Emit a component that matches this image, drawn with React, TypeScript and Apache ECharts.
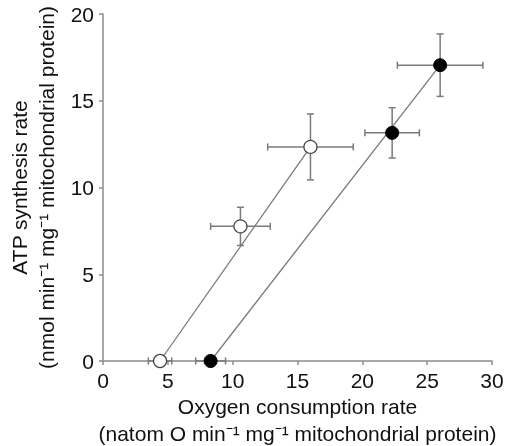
import React, { useEffect, useRef } from "react";
import * as echarts from "echarts";

// Open circles: [x, y, xErr, yErr]
const openPoints = [
  [4.4, 0, 0.9, 0],
  [10.6, 7.76, 2.3, 1.1],
  [16.0, 12.34, 3.3, 1.9],
];
// Filled circles: [x, y, xErr, yErr]
const filledPoints = [
  [8.3, 0, 1.15, 0],
  [22.3, 13.15, 2.1, 1.45],
  [26.0, 17.05, 3.3, 1.8],
];
// Regression lines
const openFit = [
  [4.4, 0],
  [16.0, 12.34],
];
const filledFit = [
  [8.3, 0],
  [26.0, 17.05],
];
const xTicks = [0, 5, 10, 15, 20, 25, 30];
const yTicks = [0, 5, 10, 15, 20];

const FONT = "Liberation Sans, Arial, sans-serif";
const GREY = "#7a7a7a";

function errRender(params: any, api: any) {
  const x = api.value(0);
  const y = api.value(1);
  const xe = api.value(2);
  const ye = api.value(3);
  const cap = 3.5;
  const children: any[] = [];
  const style = { stroke: GREY, lineWidth: 1.5 };
  const l = api.coord([x - xe, y]);
  const r = api.coord([x + xe, y]);
  if (xe > 0) {
    children.push({ type: "line", shape: { x1: l[0], y1: l[1], x2: r[0], y2: r[1] }, style });
    children.push({ type: "line", shape: { x1: l[0], y1: l[1] - cap, x2: l[0], y2: l[1] + cap }, style });
    children.push({ type: "line", shape: { x1: r[0], y1: r[1] - cap, x2: r[0], y2: r[1] + cap }, style });
  }
  if (ye > 0) {
    const t = api.coord([x, y + ye]);
    const b = api.coord([x, y - ye]);
    children.push({ type: "line", shape: { x1: t[0], y1: t[1], x2: b[0], y2: b[1] }, style });
    children.push({ type: "line", shape: { x1: t[0] - cap, y1: t[1], x2: t[0] + cap, y2: t[1] }, style });
    children.push({ type: "line", shape: { x1: b[0] - cap, y1: b[1], x2: b[0] + cap, y2: b[1] }, style });
  }
  return { type: "group", children };
}

export default function App() {
  const ref = useRef<HTMLDivElement>(null);
  useEffect(() => {
    if (!ref.current) return;
    const chart = echarts.init(ref.current, null, { renderer: "svg" });
    const axisCommon = {
      type: "value" as const,
      interval: 5,
      axisLine: { show: true, lineStyle: { color: "#8c8c8c", width: 1.5 } },
      axisTick: { show: true, length: 4, lineStyle: { color: "#8c8c8c", width: 1.5 } },
      splitLine: { show: false },
      axisLabel: { color: "#111", fontSize: 21, fontFamily: FONT, margin: 9 },
      nameLocation: "middle" as const,
      nameMoveOverlap: false,
      nameTextStyle: { color: "#111", fontSize: 21, fontFamily: FONT, lineHeight: 27 },
    };
    chart.setOption({
      animation: false,
      grid: { left: 103, right: 14, top: 14, bottom: 85, outerBoundsMode: "none", containLabel: false },
      xAxis: {
        ...axisCommon,
        min: xTicks[0],
        max: xTicks[xTicks.length - 1],
        name: "Oxygen consumption rate\n(natom O min\u207B\u00B9 mg\u207B\u00B9 mitochondrial protein)",
        nameGap: 32,
      },
      yAxis: {
        ...axisCommon,
        min: yTicks[0],
        max: yTicks[yTicks.length - 1],
        name: "ATP synthesis rate\n(nmol min\u207B\u00B9 mg\u207B\u00B9 mitochondrial protein)",
        nameGap: 43,
        nameRotate: 90,
      },
      series: [
        {
          type: "custom",
          renderItem: errRender,
          data: openPoints,
          z: 1,
          clip: false,
        },
        {
          type: "custom",
          renderItem: errRender,
          data: filledPoints,
          z: 1,
          clip: false,
        },
        {
          type: "line",
          data: openFit,
          symbol: "none",
          lineStyle: { color: GREY, width: 1.3 },
          z: 2,
        },
        {
          type: "line",
          data: filledFit,
          symbol: "none",
          lineStyle: { color: GREY, width: 1.3 },
          z: 2,
        },
        {
          type: "scatter",
          data: openPoints.map((p) => [p[0], p[1]]),
          symbol: "circle",
          symbolSize: 13,
          itemStyle: { color: "#fff", borderColor: "#444", borderWidth: 1.3, opacity: 1 },
          z: 3,
          clip: false,
        },
        {
          type: "scatter",
          data: filledPoints.map((p) => [p[0], p[1]]),
          symbol: "circle",
          symbolSize: 13,
          itemStyle: { color: "#000", borderColor: "#000", borderWidth: 1, opacity: 1 },
          z: 3,
          clip: false,
        },
      ],
    });
    return () => chart.dispose();
  }, []);
  return (
    <div
      ref={ref}
      style={{ position: "fixed", left: 0, top: 0, width: 506, height: 446 }}
    />
  );
}
